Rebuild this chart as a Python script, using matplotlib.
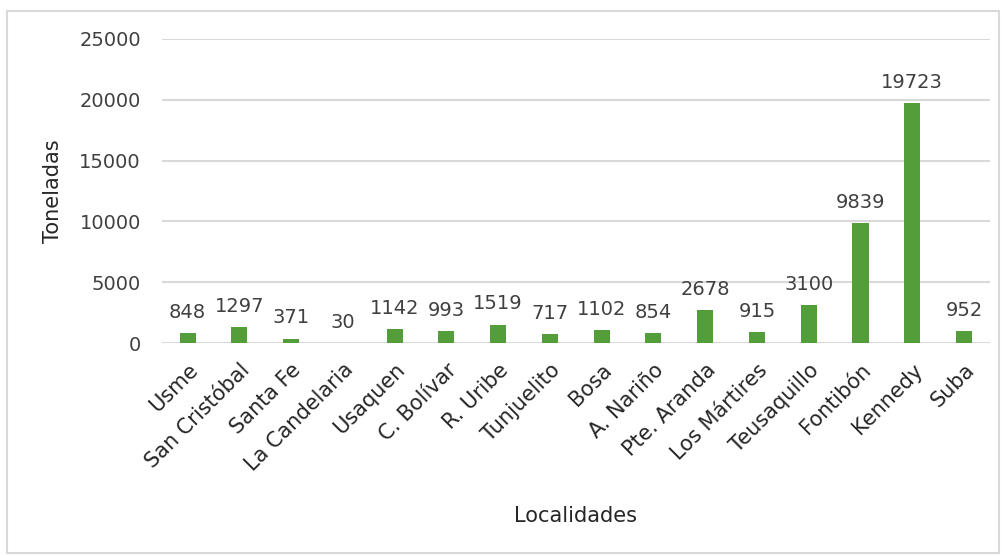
import numpy as np
import matplotlib
matplotlib.use("Agg")
import matplotlib.pyplot as plt
from matplotlib.patches import Rectangle

plt.rcParams['font.family'] = ['DejaVu Sans']

localidades = ["Usme", "San Cristóbal", "Santa Fe", "La Candelaria", "Usaquen",
               "C. Bolívar", "R. Uribe", "Tunjuelito", "Bosa", "A. Nariño",
               "Pte. Aranda", "Los Mártires", "Teusaquillo", "Fontibón",
               "Kennedy", "Suba"]
toneladas = [848, 1297, 371, 30, 1142, 993, 1519, 717, 1102, 854,
             2678, 915, 3100, 9839, 19723, 952]

fig = plt.figure(figsize=(10.04, 5.56), dpi=100)
fig.patches.append(Rectangle((0.007, 0.006), 0.988, 0.974, transform=fig.transFigure,
                             fill=False, edgecolor='#d9d9d9', lw=1.5))
ax = fig.add_axes([0.161, 0.383, 0.825, 0.547])

x = np.arange(len(localidades))
bars = ax.bar(x, toneladas, width=0.31, color='#539d3a', zorder=3)
for xi, v in zip(x, toneladas):
    ax.annotate(str(v), (xi, v), xytext=(0, 8), textcoords='offset points',
                ha='center', va='bottom', fontsize=14, color='#404040')

ax.set_xlim(-0.5, len(localidades) - 0.5)
ax.set_ylim(0, 25000)
ax.set_yticks(np.arange(0, 25001, 5000))
ax.yaxis.grid(True, color='#d9d9d9', lw=1.5, zorder=0)
for s in ax.spines.values():
    s.set_visible(False)
ax.tick_params(axis='both', length=0, labelsize=14, colors='#404040')
ax.tick_params(axis='x', labelsize=15, pad=12)
ax.tick_params(axis='y', pad=15)
ax.set_xticks(x)
ax.set_xticklabels(localidades, rotation=45, ha='right', rotation_mode='anchor')
for lbl in ax.get_xticklabels():
    lbl.set_color('#262626')
ax.set_ylabel("Toneladas", fontsize=15, color='#262626', labelpad=12)
ax.set_xlabel("Localidades", fontsize=15, color='#262626', labelpad=22)

fig.savefig("out.png", dpi=100)
